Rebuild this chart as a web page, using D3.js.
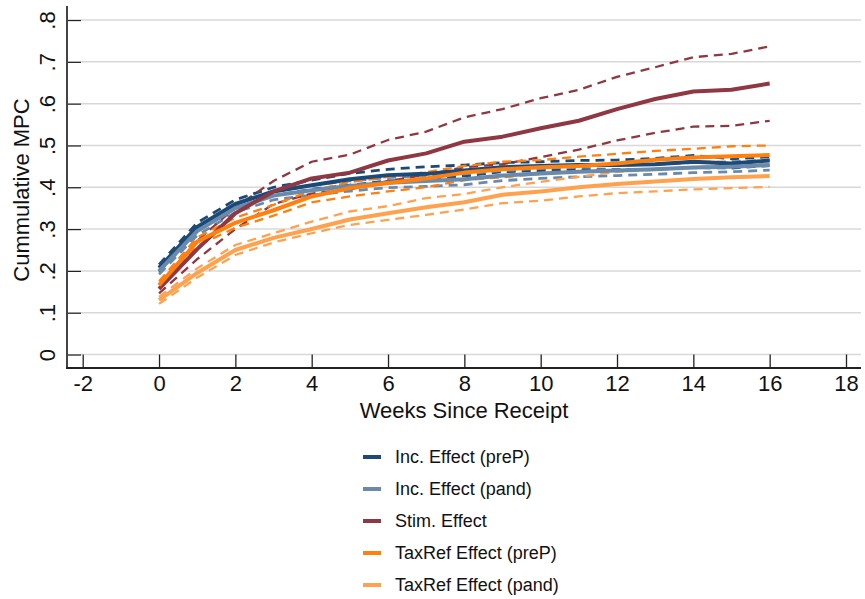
<!DOCTYPE html>
<html>
<head>
<meta charset="utf-8">
<script src="https://cdn.jsdelivr.net/npm/d3@7"></script>
<style>
  html, body { margin: 0; padding: 0; background: #fff; }
  svg { display: block; font-family: "Liberation Sans", Arial, sans-serif; }
</style>
</head>
<body>
<svg id="chart" width="865" height="599"></svg>
<script>
// ---------------- DATA ----------------
const weeks = [0,1,2,3,4,5,6,7,8,9,10,11,12,13,14,15,16];
const xTicks = [-2,0,2,4,6,8,10,12,14,16,18];
const xTickLabels = ["-2","0","2","4","6","8","10","12","14","16","18"];
const yTicks = [0,0.1,0.2,0.3,0.4,0.5,0.6,0.7,0.8];
const yTickLabels = ["0",".1",".2",".3",".4",".5",".6",".7",".8"];
const seriesNames = ["Inc. Effect (preP)","Inc. Effect (pand)","Stim. Effect","TaxRef Effect (preP)","TaxRef Effect (pand)"];
const seriesColors = ["#1c4a78","#6a8aac","#8f3843","#ff7f0f","#ffa24f"];

const incPreP      = [0.207,0.305,0.360,0.390,0.405,0.419,0.429,0.432,0.440,0.448,0.451,0.453,0.453,0.455,0.461,0.457,0.464];
const incPrePHi    = [0.215,0.315,0.370,0.400,0.417,0.433,0.443,0.449,0.453,0.459,0.461,0.464,0.465,0.469,0.476,0.468,0.473];
const incPrePLo    = [0.198,0.295,0.350,0.380,0.395,0.405,0.415,0.418,0.427,0.437,0.440,0.442,0.442,0.443,0.447,0.446,0.452];

const incPand      = [0.200,0.295,0.350,0.380,0.393,0.403,0.411,0.415,0.419,0.428,0.433,0.437,0.440,0.443,0.447,0.449,0.453];
const incPandHi    = [0.208,0.305,0.360,0.390,0.405,0.415,0.423,0.428,0.432,0.440,0.445,0.449,0.452,0.455,0.459,0.461,0.465];
const incPandLo    = [0.192,0.285,0.340,0.370,0.381,0.391,0.399,0.402,0.406,0.416,0.421,0.425,0.428,0.431,0.435,0.437,0.441];

const stim         = [0.157,0.252,0.338,0.390,0.421,0.435,0.464,0.481,0.509,0.521,0.541,0.559,0.587,0.611,0.629,0.633,0.648];
const stimHi       = [0.167,0.272,0.352,0.415,0.461,0.478,0.513,0.533,0.567,0.587,0.613,0.633,0.664,0.687,0.711,0.719,0.737];
const stimLo       = [0.146,0.228,0.300,0.360,0.385,0.395,0.415,0.430,0.448,0.455,0.472,0.490,0.512,0.530,0.545,0.547,0.559];

const taxPreP      = [0.166,0.270,0.315,0.345,0.378,0.398,0.410,0.421,0.435,0.443,0.448,0.451,0.457,0.466,0.471,0.474,0.477];
const taxPrePHi    = [0.175,0.280,0.327,0.358,0.392,0.412,0.425,0.436,0.451,0.461,0.465,0.473,0.480,0.487,0.492,0.498,0.500];
const taxPrePLo    = [0.157,0.260,0.303,0.332,0.364,0.378,0.390,0.400,0.417,0.424,0.432,0.437,0.441,0.444,0.448,0.452,0.455];

const taxPand      = [0.130,0.195,0.250,0.279,0.300,0.323,0.338,0.352,0.364,0.382,0.390,0.400,0.408,0.414,0.420,0.424,0.427];
const taxPandHi    = [0.138,0.206,0.262,0.290,0.318,0.342,0.355,0.374,0.384,0.400,0.413,0.425,0.437,0.442,0.446,0.449,0.452];
const taxPandLo    = [0.121,0.184,0.238,0.268,0.290,0.310,0.322,0.334,0.347,0.362,0.368,0.378,0.386,0.390,0.395,0.398,0.401];

const estimates = [incPreP, incPand, stim, taxPreP, taxPand];
const uppers    = [incPrePHi, incPandHi, stimHi, taxPrePHi, taxPandHi];
const lowers    = [incPrePLo, incPandLo, stimLo, taxPrePLo, taxPandLo];

// ---------------- LAYOUT ----------------
const svg = d3.select("#chart");
const axisX = 67, axisY = 368, plotTop = 6, plotRight = 861;
const tickLen = 14;

const x = d3.scaleLinear().domain([-2, 18]).range([82.7, 846]);
const y = d3.scaleLinear().domain([0, 0.8]).range([354.5, 20]);

// gridlines
svg.append("g").selectAll("line").data(yTicks).join("line")
  .attr("x1", axisX + tickLen).attr("x2", plotRight)
  .attr("y1", d => y(d)).attr("y2", d => y(d))
  .attr("stroke", "#d8d8d8").attr("stroke-width", 1.5);

// lines
const line = d3.line().x((d, i) => x(weeks[i])).y(d => y(d));
const plot = svg.append("g");
estimates.forEach((est, k) => {
  [uppers[k], lowers[k]].forEach(ci => {
    plot.append("path").datum(ci)
      .attr("d", line).attr("fill", "none")
      .attr("stroke", seriesColors[k]).attr("stroke-width", k < 2 ? 2.8 : 2.3)
      .attr("stroke-dasharray", "9,6");
  });
});
estimates.forEach((est, k) => {
  plot.append("path").datum(est)
    .attr("d", line).attr("fill", "none")
    .attr("stroke", seriesColors[k]).attr("stroke-width", 4)
    .attr("stroke-linejoin", "round");
});

// axes
const yAxis = d3.axisLeft(y).tickValues(yTicks)
  .tickFormat((d, i) => yTickLabels[i]).tickSizeInner(-tickLen).tickSizeOuter(0).tickPadding(0);
const gy = svg.append("g").attr("transform", `translate(${axisX},0)`).call(yAxis);
gy.select(".domain").remove();
gy.selectAll(".tick line").attr("stroke", "#222").attr("stroke-width", 1.3);
gy.selectAll(".tick text")
  .attr("x", null).attr("dy", null)
  .attr("text-anchor", "middle")
  .attr("transform", "translate(-20,0) rotate(-90) translate(0,7.5)")
  .attr("font-size", 22).attr("fill", "#111")
  .style("font-family", "Liberation Sans, Arial, sans-serif");
svg.append("line").attr("x1", axisX).attr("x2", axisX).attr("y1", plotTop).attr("y2", axisY)
  .attr("stroke", "#444").attr("stroke-width", 2);

const xAxis = d3.axisBottom(x).tickValues(xTicks).tickFormat((d, i) => xTickLabels[i])
  .tickSizeInner(-(axisY - y(0))).tickSizeOuter(0).tickPadding(7);
const gx = svg.append("g").attr("transform", `translate(0,${axisY})`).call(xAxis);
gx.select(".domain").remove();
gx.selectAll(".tick line").attr("stroke", "#222").attr("stroke-width", 1.3);
gx.selectAll(".tick text").attr("font-size", 22).attr("fill", "#111")
  .style("font-family", "Liberation Sans, Arial, sans-serif");
svg.append("line").attr("x1", axisX - 1).attr("x2", plotRight).attr("y1", axisY).attr("y2", axisY)
  .attr("stroke", "#222").attr("stroke-width", 2);

// axis titles
svg.append("text").attr("x", 464).attr("y", 418).attr("text-anchor", "middle")
  .attr("font-size", 22).attr("fill", "#111").text("Weeks Since Receipt");
svg.append("text").attr("transform", "translate(29,190) rotate(-90)")
  .attr("text-anchor", "middle").attr("font-size", 22).attr("fill", "#111").text("Cummulative MPC");

// legend
const legendRows = [457, 489, 521, 553, 585];
const lg = svg.append("g");
seriesNames.forEach((name, k) => {
  lg.append("line").attr("x1", 363).attr("x2", 381)
    .attr("y1", legendRows[k]).attr("y2", legendRows[k])
    .attr("stroke", seriesColors[k]).attr("stroke-width", 4);
  lg.append("text").attr("x", 395).attr("y", legendRows[k]).attr("dy", "0.36em")
    .attr("font-size", 18).attr("fill", "#111").text(name);
});
</script>
</body>
</html>
